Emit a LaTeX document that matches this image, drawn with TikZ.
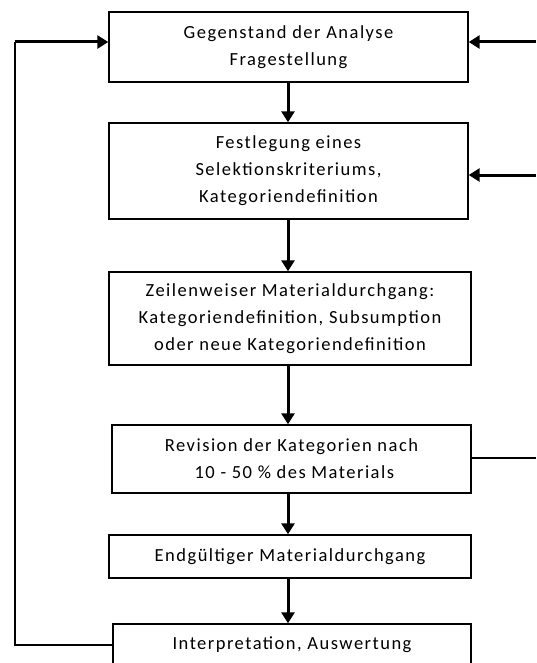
\documentclass[tikz,border=0pt]{standalone}
\usepackage{fontspec}
\setmainfont{Carlito}[LetterSpace=8]
\usetikzlibrary{arrows.meta}
\begin{document}
\begin{tikzpicture}[x=1pt,y=-1pt,
  stepbox/.style={draw, line width=1.4pt, align=center, inner sep=0pt,
    font=\fontsize{18.5}{27}\selectfont},
  flow/.style={line width=3pt, -{Triangle[length=11pt,width=13pt]}},
  plain/.style={line width=1.4pt}]
  \useasboundingbox (0,0) rectangle (536,663);
  \clip (0,0) rectangle (536,663);

  % process steps
  \node[stepbox, minimum width=359pt, minimum height=70pt] (b1) at (288.5,47)
    {Gegenstand der Analyse\\Fragestellung};
  \node[stepbox, minimum width=359pt, minimum height=96pt] (b2) at (288.5,171)
    {Festlegung eines\\Selektionskriteriums,\\Kategoriendefinition};
  \node[stepbox, minimum width=362pt, minimum height=93pt] (b3) at (290,318.5)
    {Zeilenweiser Materialdurchgang:\\Kategoriendefinition, Subsumption\\oder neue Kategoriendefinition};
  \node[stepbox, minimum width=359pt, minimum height=68pt] (b4) at (291.5,459)
    {Revision der Kategorien nach\\\ 10 - 50 \% des Materials};
  \node[stepbox, minimum width=362pt, minimum height=43pt] (b5) at (290,556.5)
    {Endgültiger Materialdurchgang};
  \node[stepbox, minimum width=358pt, minimum height=42pt] (b6) at (292,645)
    {Interpretation, Auswertung};

  % main sequence
  \coordinate (axis) at (288,0);
  \foreach \a/\b in {b1/b2, b2/b3, b3/b4, b4/b5, b5/b6}
    \draw[flow] (\a.south -| axis) -- (\b.north -| axis);

  % feedback from the right edge
  \coordinate (in1) at (536,42);
  \coordinate (in2) at (536,175);
  \coordinate (out4) at (536,458);
  \draw[flow] (in1) -- (in1 -| b1.east);
  \draw[flow] (in2) -- (in2 -| b2.east);
  \draw[plain] (out4 -| b4.east) -- (out4);

  % loop back on the left
  \coordinate (l1) at (15,645);
  \coordinate (l2) at (15,42);
  \draw[plain] (b6.west) -- (l1) -- (l2);
  \draw[flow] (l2) -- (l2 -| b1.west);
\end{tikzpicture}
\end{document}
